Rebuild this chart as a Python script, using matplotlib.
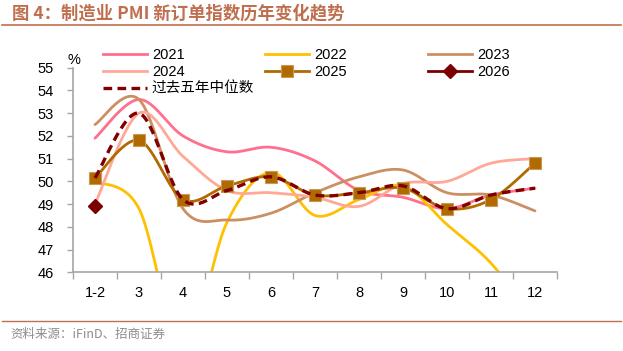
import numpy as np
import matplotlib
matplotlib.use("Agg")
import matplotlib.pyplot as plt
from matplotlib.lines import Line2D

plt.rcParams['font.family'] = ['Liberation Sans', 'Noto Sans CJK SC', 'DejaVu Sans']

categories = ["1-2", "3", "4", "5", "6", "7", "8", "9", "10", "11", "12"]
y2021 = [51.9, 53.6, 52.0, 51.3, 51.5, 50.9, 49.6, 49.3, 48.8, 49.4, 49.7]
y2022 = [50.0, 48.8, 42.6, 48.2, 50.4, 48.5, 49.2, 49.8, 48.1, 46.4, 43.9]
y2023 = [52.5, 53.6, 48.8, 48.3, 48.6, 49.5, 50.2, 50.5, 49.5, 49.4, 48.7]
y2024 = [49.0, 53.0, 51.1, 49.6, 49.5, 49.3, 48.9, 49.9, 50.0, 50.8, 51.0]
y2025 = [50.15, 51.8, 49.2, 49.8, 50.2, 49.4, 49.5, 49.7, 48.8, 49.2, 50.8]
y2026 = [48.9]
median5 = [50.15, 53.0, 49.2, 49.6, 50.2, 49.4, 49.5, 49.8, 48.8, 49.4, 49.7]
yticks = [46, 47, 48, 49, 50, 51, 52, 53, 54, 55]

title = "图 4：制造业 PMI 新订单指数历年变化趋势"
source = "资料来源：iFinD、招商证券"

TITLE_C = "#BF6F4E"


def smooth(xs, ys, n=30):
    """Excel-like smoothed line (Bezier through points)."""
    xs = np.asarray(xs, float)
    ys = np.asarray(ys, float)
    P = np.column_stack([xs, ys])
    if len(P) < 3:
        return xs, ys
    out = []
    m = len(P)
    t = np.linspace(0, 1, n)
    for i in range(m - 1):
        p0 = P[i]
        p3 = P[i + 1]
        pm = P[i - 1] if i > 0 else P[i]
        pp = P[i + 2] if i + 2 < m else P[i + 1]
        c1 = p0 + (p3 - pm) / 6.0
        c2 = p3 - (pp - p0) / 6.0
        seg = ((1 - t)[:, None] ** 3 * p0 + 3 * ((1 - t) ** 2 * t)[:, None] * c1
               + 3 * ((1 - t) * t ** 2)[:, None] * c2 + (t ** 3)[:, None] * p3)
        if i > 0:
            seg = seg[1:]
        out.append(seg)
    out = np.vstack(out)
    return out[:, 0], out[:, 1]


W, H = 623, 351
fig = plt.figure(figsize=(W / 100, H / 100), dpi=100)
ax = fig.add_axes([73 / W, 1 - 272.3 / H, (557 - 73) / W, (272.3 - 67.7) / H])

x = np.arange(len(categories))
lw = 2.0

series = [
    ("2021", y2021, "#FF6F8E"),
    ("2022", y2022, "#FFC000"),
    ("2023", y2023, "#CC8F62"),
    ("2024", y2024, "#FFA898"),
]
handles = {}
for name, ys, c in series:
    sx, sy = smooth(x, ys)
    ax.plot(sx, sy, color=c, lw=lw, solid_capstyle='round')
    handles[name] = Line2D([], [], color=c, lw=lw)

c25 = "#B06A00"
sx, sy = smooth(x, y2025)
ax.plot(sx, sy, color=c25, lw=lw)
ax.plot(x, y2025, ls='none', marker='s', ms=8, mfc=c25, mec="#C99A55", mew=0.8, zorder=5)
handles["2025"] = Line2D([], [], color=c25, lw=lw, marker='s', ms=8, mfc=c25, mec="#C99A55", mew=0.8)

c26 = "#7B0000"
ax.plot(x[:len(y2026)], y2026, ls='none', marker='D', ms=7, mfc=c26, mec=c26, zorder=6)
handles["2026"] = Line2D([], [], color=c26, lw=lw, marker='D', ms=7, mfc=c26, mec=c26)

cm = "#800000"
sx, sy = smooth(x, median5)
ax.plot(sx, sy, color=cm, lw=2.4, ls=(0, (2.6, 1.6)), zorder=7)
handles["过去五年中位数"] = Line2D([], [], color=cm, lw=2.4, ls=(0, (2.6, 1.6)))

ax.set_xlim(-0.5, len(categories) - 0.5)
ax.set_ylim(46, 55)
ax.set_yticks(yticks)
ax.set_yticklabels([str(v) for v in yticks])
ax.set_xticks(x)
ax.set_xticklabels(categories)
ax.set_xticks(np.arange(-0.5, len(categories), 1.0), minor=True)

gray = "#A6A6A6"
for s in ["top", "right"]:
    ax.spines[s].set_visible(False)
for s in ["left", "bottom"]:
    ax.spines[s].set_color(gray)
    ax.spines[s].set_linewidth(1.2)
ax.tick_params(axis='y', direction='out', length=4, width=1.0, color=gray, labelsize=10.5, pad=10)
ax.tick_params(axis='x', which='major', length=0, labelsize=10.5, pad=10)
ax.tick_params(axis='x', which='minor', direction='out', length=5, width=1.0, color=gray)
for lab in ax.get_xticklabels() + ax.get_yticklabels():
    lab.set_color("#000000")

fig.text(68 / W, 1 - 60 / H, "%", fontsize=10.5, ha='left', va='center')

# legend columns
cols = [(["2021", "2024", "过去五年中位数"], 103), (["2022", "2025"], 265), (["2023", "2026"], 428)]
for names, px in cols:
    fig.legend([handles[n] for n in names], names, loc='upper left',
               bbox_to_anchor=(px / W, 1 - 48 / H), frameon=False,
               handlelength=3.0, handletextpad=0.35, borderpad=0, borderaxespad=0,
               labelspacing=0.2, prop={'family': ['Liberation Sans', 'Noto Sans CJK SC'], 'size': 10.5})

# title and rules
fig.text(12 / W, 1 - 13 / H, title, fontsize=12.5, fontweight='bold', color=TITLE_C,
         ha='left', va='center', family=['Noto Sans CJK SC', 'DejaVu Sans'])
fig.add_artist(Line2D([2 / W, 621 / W], [1 - 24.5 / H, 1 - 24.5 / H], color=TITLE_C, lw=1.2))
fig.add_artist(Line2D([2 / W, 621 / W], [1 - 321 / H, 1 - 321 / H], color=TITLE_C, lw=1.0))
fig.text(10 / W, 1 - 334 / H, source, fontsize=9, color="#8C8C8C", ha='left', va='center',
         family=['Noto Sans CJK SC', 'DejaVu Sans'])

fig.savefig("out.png", dpi=100)
